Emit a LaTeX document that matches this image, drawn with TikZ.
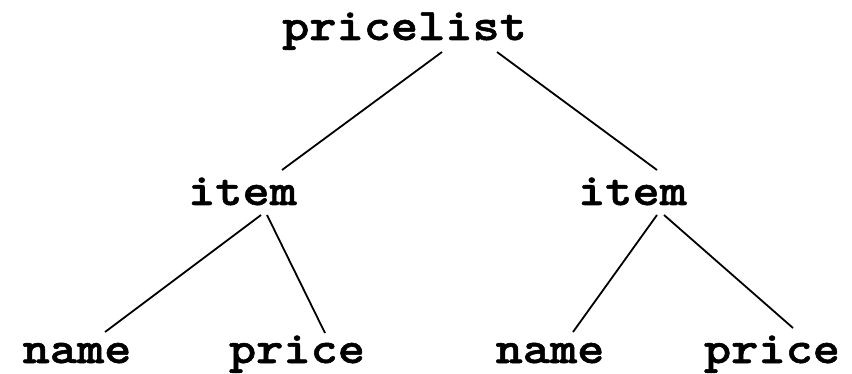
\documentclass[tikz,border=0pt]{standalone}
\usepackage{fontspec}
\setmonofont{lmmonolt10}[Extension=.otf, UprightFont=*-regular, BoldFont=*-bold,
  FakeStretch=1.143, BoldFeatures={FakeBold=1.2}]
\begin{document}
\begin{tikzpicture}[x=1pt,y=-1pt,
  tag/.style={anchor=base,inner sep=0pt,font=\fontsize{45.3}{50}\selectfont\ttfamily\bfseries},
  edge/.style={line width=1.8pt,black}]
\useasboundingbox (0,0) rectangle (852,374);
% element labels
\node[tag] (root)   at (404.5,40)  {pricelist};
\node[tag] (itemL)  at (242.5,205) {item};
\node[tag] (itemR)  at (632.5,205) {item};
\node[tag] (nameL)  at (77,363)    {name};
\node[tag] (priceL) at (297,363)   {price};
\node[tag] (nameR)  at (550,363)   {name};
\node[tag] (priceR) at (772,363)   {price};
% tree edges
\draw[edge] ([shift={(37.5,12)}]root.base) -- ([shift={(39.5,-35)}]itemL.base);
\draw[edge] ([shift={(92.5,12)}]root.base) -- ([shift={(24.5,-35)}]itemR.base);
\draw[edge] ([shift={(18.5,10)}]itemL.base) -- ([shift={(28,-31)}]nameL.base);
\draw[edge] ([shift={(24.5,10)}]itemL.base) -- ([shift={(28,-30)}]priceL.base);
\draw[edge] ([shift={(24.5,10)}]itemR.base) -- ([shift={(23,-31)}]nameR.base);
\draw[edge] ([shift={(31.5,10)}]itemR.base) -- ([shift={(21,-35)}]priceR.base);
\end{tikzpicture}
\end{document}
